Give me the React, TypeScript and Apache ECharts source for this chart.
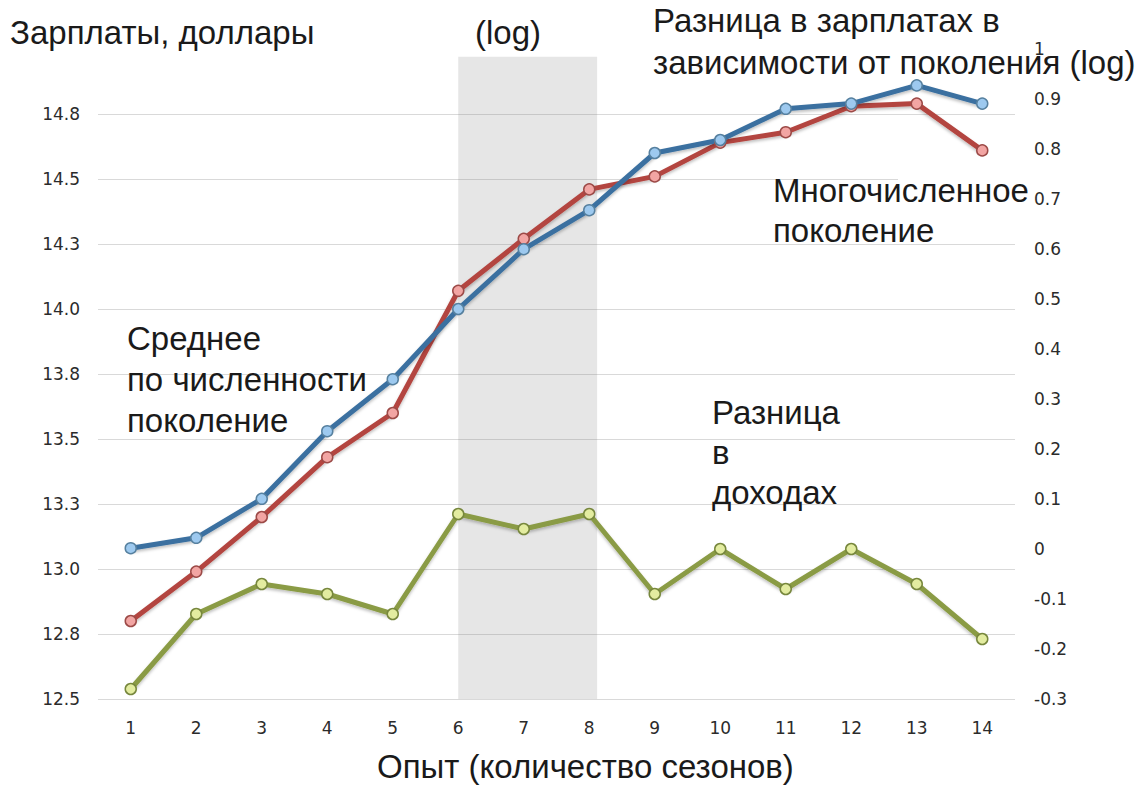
import React, { useEffect, useRef } from "react";
import * as echarts from "echarts";

const categories = ["1", "2", "3", "4", "5", "6", "7", "8", "9", "10", "11", "12", "13", "14"];
const averageGeneration = [13.08, 13.12, 13.27, 13.53, 13.73, 14.0, 14.23, 14.38, 14.6, 14.65, 14.77, 14.79, 14.86, 14.79];
const largeGeneration = [12.8, 12.99, 13.2, 13.43, 13.6, 14.07, 14.27, 14.46, 14.51, 14.64, 14.68, 14.78, 14.79, 14.61];
const incomeDifference = [-0.28, -0.13, -0.07, -0.09, -0.13, 0.07, 0.04, 0.07, -0.09, 0.0, -0.08, 0.0, -0.07, -0.18];
const leftTickLabels = ["12.5", "12.8", "13.0", "13.3", "13.5", "13.8", "14.0", "14.3", "14.5", "14.8", ""];
const rightTickLabels = ["-0.3", "-0.2", "-0.1", "0", "0.1", "0.2", "0.3", "0.4", "0.5", "0.6", "0.7", "0.8", "0.9", "1"];
const shadeX = [6, 8.12];
const shadeY = [12.5, 14.97];

const TEXT_FONT = "'Liberation Sans', Arial, Helvetica, sans-serif";
const AXIS_FONT = "'DejaVu Sans', Verdana, sans-serif";

export default function App() {
  const ref = useRef<HTMLDivElement>(null);

  useEffect(() => {
    if (!ref.current) return;
    const chart = echarts.init(ref.current, undefined, { renderer: "svg" });

    const gridColors = leftTickLabels.map((l) => (l === "" ? "rgba(0,0,0,0)" : "#d9d9d9"));

    const lineSeries = (
      name: string,
      data: number[],
      line: string,
      fill: string,
      border: string,
      yAxisIndex: number
    ) => ({
      name,
      type: "line",
      data,
      xAxisIndex: 0,
      yAxisIndex,
      symbol: "circle",
      symbolSize: 11,
      showSymbol: true,
      lineStyle: {
        color: line,
        width: 5,
        shadowColor: "rgba(0,0,0,0.25)",
        shadowBlur: 3,
        shadowOffsetY: 2,
      },
      itemStyle: { color: fill, borderColor: border, borderWidth: 1.5 },
      z: 3,
    });

    const bigText = (x: number, y: number, text: string, lineHeight = 41) => ({
      type: "text",
      x,
      y,
      z: 10,
      style: {
        text,
        fontSize: 33,
        fontFamily: TEXT_FONT,
        fill: "#1a1a1a",
        verticalAlign: "middle",
        lineHeight,
      },
    });

    const whiteBox = (x: number, y: number, width: number, height: number) => ({
      type: "rect",
      z: 5,
      silent: true,
      shape: { x, y, width, height },
      style: { fill: "#ffffff" },
    });

    chart.setOption({
      animation: false,
      backgroundColor: "#ffffff",
      grid: { left: 98, right: 127, top: 49, bottom: 86, outerBoundsMode: "none" },
      xAxis: [
        {
          type: "category",
          data: categories,
          boundaryGap: true,
          axisLine: { show: false },
          axisTick: { show: false },
          axisLabel: { margin: 20, fontSize: 17, fontFamily: AXIS_FONT, color: "#2b2b2b" },
        },
        {
          type: "value",
          min: 0.5,
          max: 14.5,
          show: false,
          position: "bottom",
        },
      ],
      yAxis: [
        {
          type: "value",
          min: 12.5,
          max: 15,
          interval: 0.25,
          axisLine: { show: false },
          axisTick: { show: false },
          splitLine: { show: true, lineStyle: { color: gridColors, width: 1 } },
          axisLabel: {
            margin: 18,
            fontSize: 17,
            fontFamily: AXIS_FONT,
            color: "#2b2b2b",
            formatter: (v: number) => leftTickLabels[Math.round((v - 12.5) / 0.25)] ?? "",
          },
        },
        {
          type: "value",
          min: -0.3,
          max: 1.0,
          interval: 0.1,
          position: "right",
          axisLine: { show: false },
          axisTick: { show: false },
          splitLine: { show: false },
          axisLabel: {
            margin: 19,
            fontSize: 17,
            fontFamily: AXIS_FONT,
            color: "#2b2b2b",
            formatter: (v: number) => rightTickLabels[Math.round((v + 0.3) / 0.1)] ?? "",
          },
        },
      ],
      series: [
        {
          name: "shade",
          type: "line",
          xAxisIndex: 1,
          yAxisIndex: 0,
          data: [],
          silent: true,
          z: 1,
          markArea: {
            silent: true,
            itemStyle: { color: "rgba(128,128,128,0.2)" },
            data: [[{ xAxis: shadeX[0], yAxis: shadeY[0] }, { xAxis: shadeX[1], yAxis: shadeY[1] }]],
          },
        },
        lineSeries("Многочисленное поколение", largeGeneration, "#b3443f", "#f2a5a3", "#9c4a47", 0),
        lineSeries("Среднее по численности поколение", averageGeneration, "#3a70a0", "#9dc9ef", "#56809f", 0),
        lineSeries("Разница в доходах", incomeDifference, "#8a9b44", "#e3eca0", "#77873d", 1),
      ],
      graphic: [
        whiteBox(898, 172, 120, 12),
        bigText(10, 32, "Зарплаты, доллары", 33),
        bigText(475, 32, "(log)", 33),
        bigText(653, 41, "Разница в зарплатах в\nзависимости от поколения (log)", 42),
        bigText(127, 379, "Среднее\nпо численности\nпоколение"),
        bigText(773, 210, "Многочисленное\nпоколение", 40),
        bigText(712, 452, "Разница\nв\nдоходах", 40),
        bigText(377, 766, "Опыт (количество сезонов)", 33),
      ],
    });

    return () => chart.dispose();
  }, []);

  return (
    <div
      ref={ref}
      style={{ position: "fixed", left: 0, top: 0, width: 1142, height: 785, background: "#fff" }}
    />
  );
}
